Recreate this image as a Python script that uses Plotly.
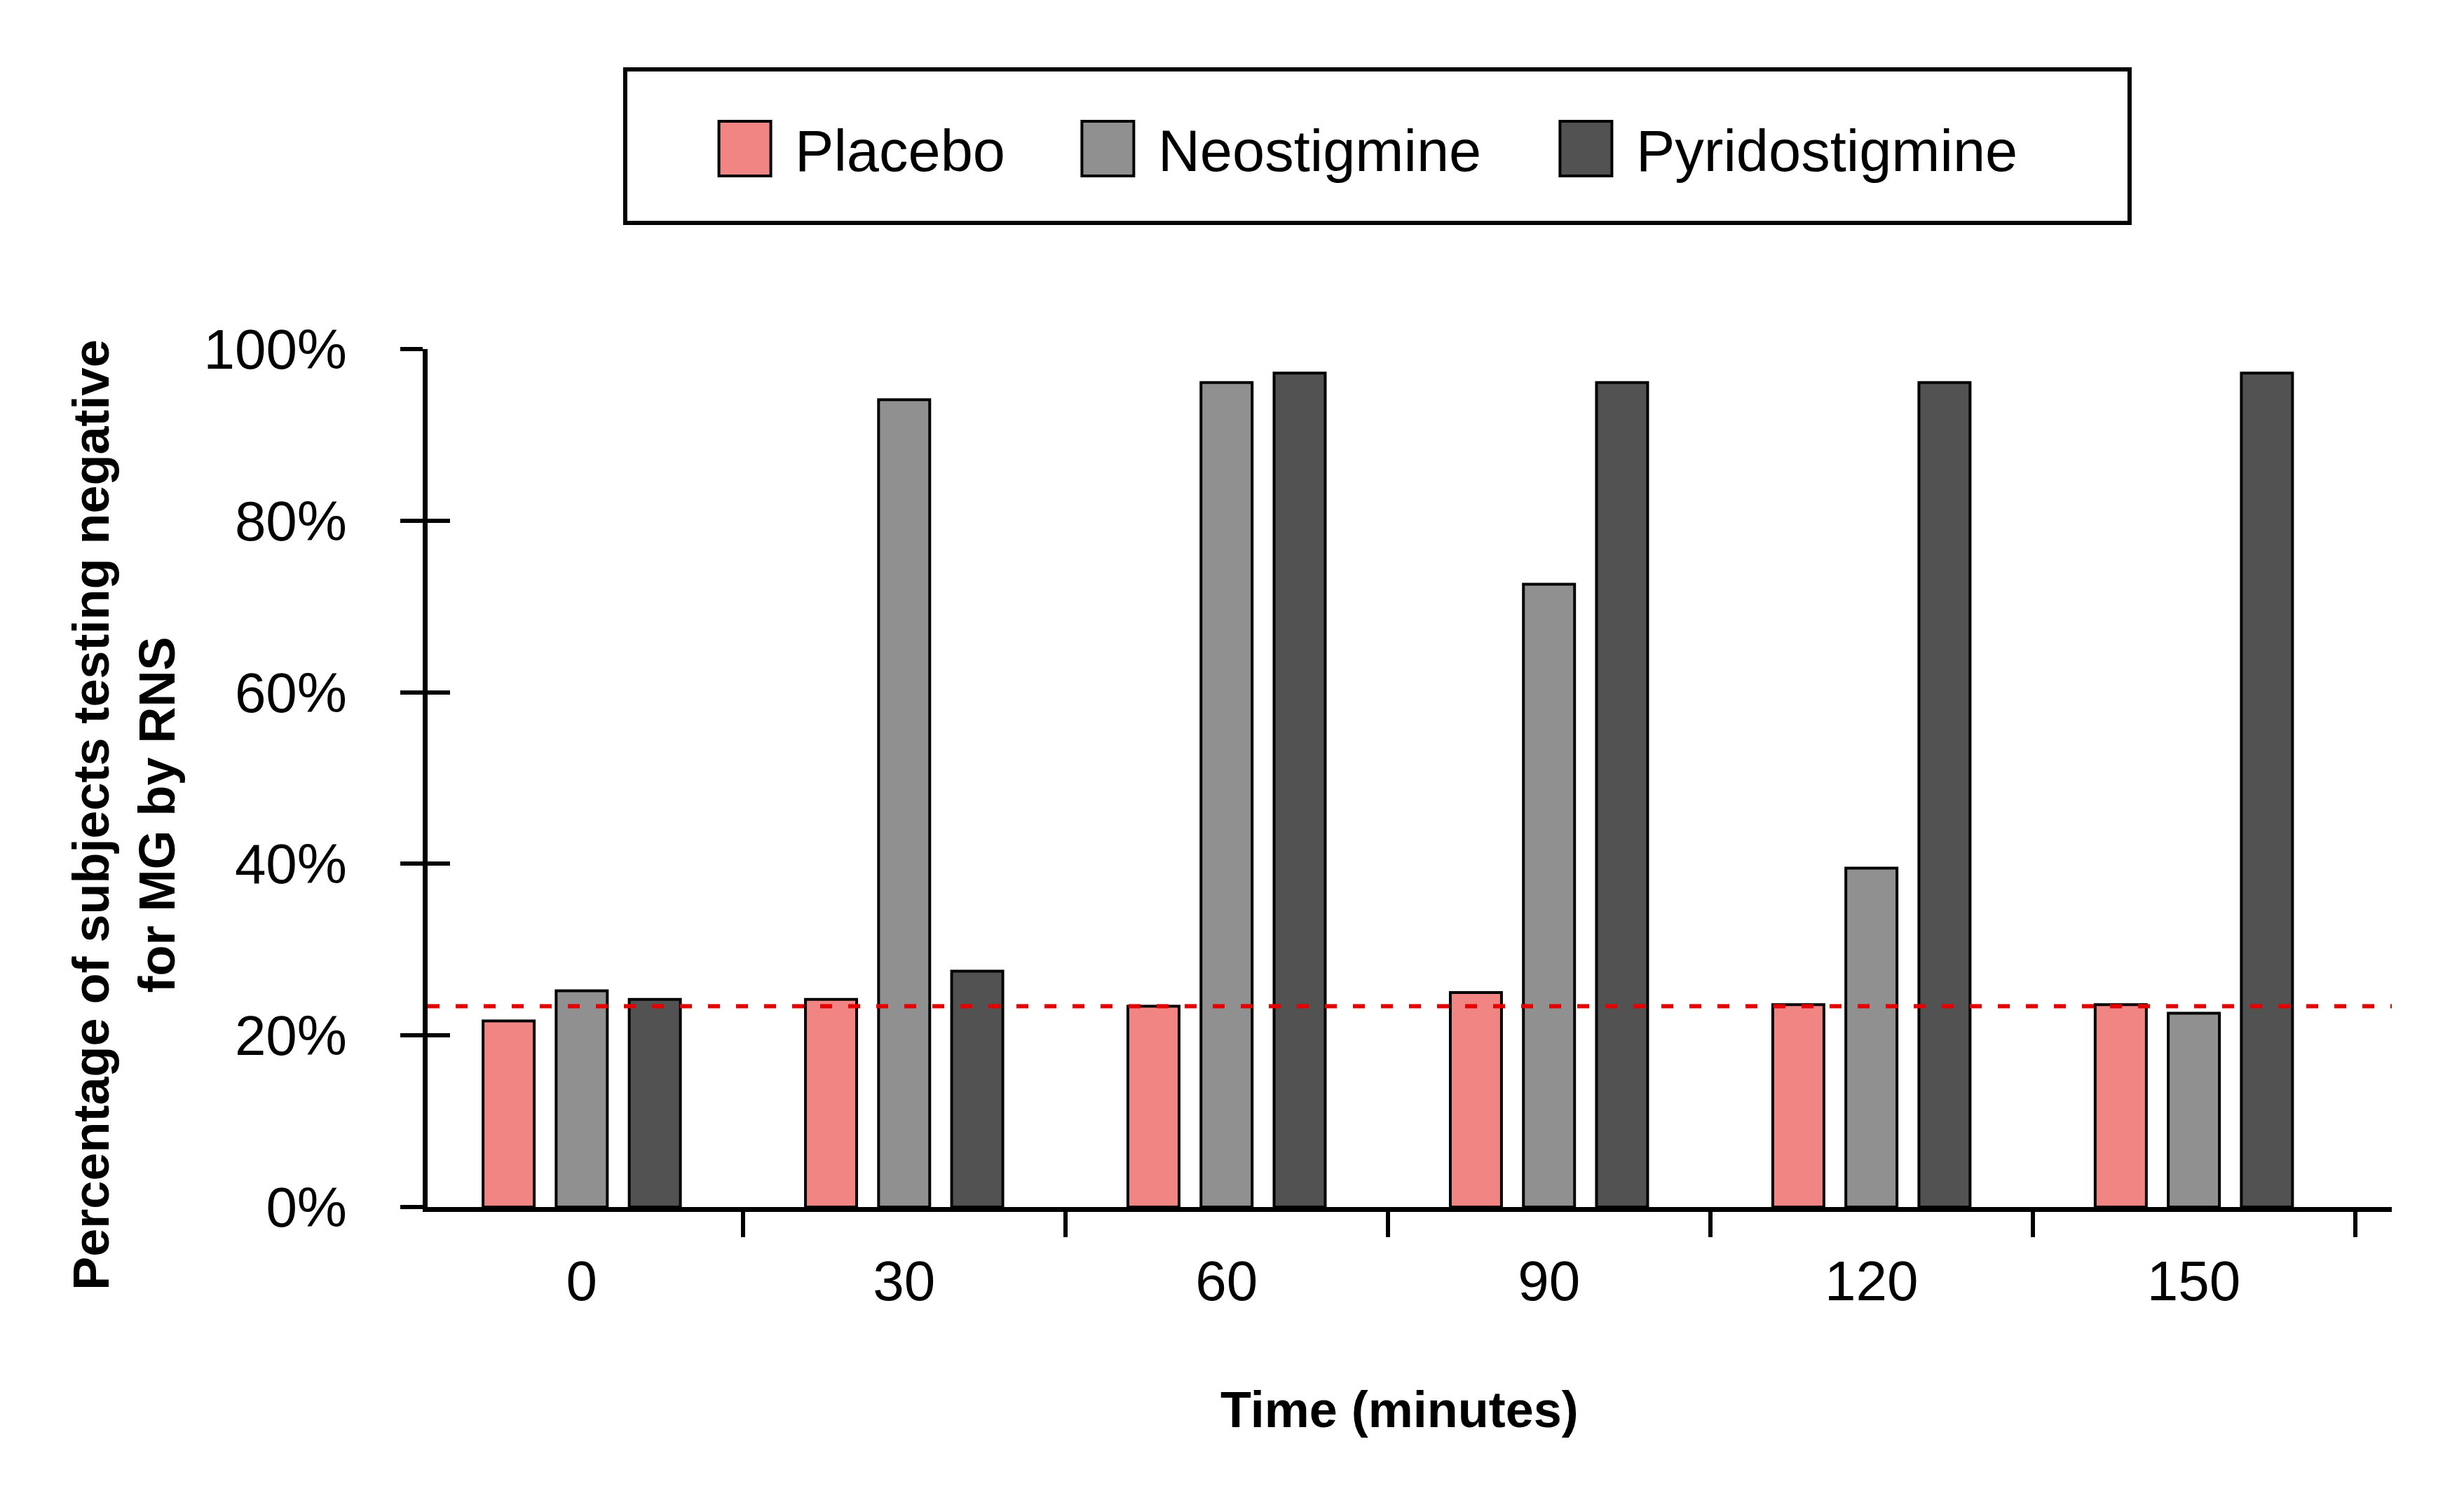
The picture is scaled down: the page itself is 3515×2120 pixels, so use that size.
import plotly.graph_objects as go

# ---- data ----
times = ["0", "30", "60", "90", "120", "150"]
series_names = ["Placebo", "Neostigmine", "Pyridostigmine"]
placebo = [21.7, 24.2, 23.4, 25.0, 23.6, 23.6]
neostigmine = [25.2, 94.1, 96.1, 72.6, 39.5, 22.6]
pyridostigmine = [24.2, 27.5, 97.2, 96.1, 96.1, 97.2]
reference_level = 23.4
y_tick_values = [0, 20, 40, 60, 80, 100]
y_tick_labels = ["0%", "20%", "40%", "60%", "80%", "100%"]

# ---- styles ----
series_colors = ["#F08583", "#909090", "#525252"]
legend_ids = ["legend", "legend2", "legend3"]
legend_x = [0.1360, 0.3208, 0.5642]
FONT = "Liberation Sans, Arial, Helvetica, sans-serif"

fig = go.Figure()
for name, vals, col, lg in zip(series_names, [placebo, neostigmine, pyridostigmine],
                               series_colors, legend_ids):
    fig.add_trace(go.Bar(
        x=times, y=vals, name=name, legend=lg,
        marker=dict(color=col, line=dict(color="black", width=4)),
    ))

# invisible helper trace so the overlay axis (inner half of the cross ticks) is drawn
fig.add_trace(go.Scatter(x=[times[0]], y=[None], yaxis="y2", mode="markers",
                         marker=dict(opacity=0), showlegend=False, hoverinfo="skip"))

fig.add_shape(type="line", xref="paper", x0=0, x1=1, yref="y",
              y0=reference_level, y1=reference_level,
              line=dict(color="#E30000", width=6, dash="17px,23px"), layer="above")

# legend frame
fig.add_shape(type="rect", xref="paper", yref="paper",
              x0=0.1006, x1=0.8665, y0=1.1471, y1=1.3260,
              line=dict(color="black", width=6), fillcolor="rgba(0,0,0,0)")

legend_common = dict(orientation="h", xanchor="left", y=1.2337, yanchor="middle",
                     font=dict(family=FONT, size=83, color="black"),
                     itemwidth=133, borderwidth=0, bgcolor="rgba(0,0,0,0)",
                     itemclick=False, itemdoubleclick=False)

fig.update_layout(
    width=3499, height=2104,
    margin=dict(l=602, r=95, t=490, b=390, pad=0),
    paper_bgcolor="white", plot_bgcolor="white",
    font=dict(family=FONT, color="black", size=80),
    barmode="group", bargap=0.32, bargroupgap=0.30,
    showlegend=True,
    legend=dict(x=legend_x[0], **legend_common),
    legend2=dict(x=legend_x[1], **legend_common),
    legend3=dict(x=legend_x[2], **legend_common),
    xaxis=dict(type="category", range=[-0.478, 5.614], tickson="boundaries",
               ticks="outside", ticklen=36, tickwidth=6, tickcolor="black",
               showline=True, linewidth=7, linecolor="black",
               showgrid=False, zeroline=False,
               tickfont=dict(family=FONT, size=80), ticklabelstandoff=30),
    yaxis=dict(range=[0, 100], tickvals=y_tick_values, ticktext=y_tick_labels,
               ticks="outside", ticklen=32, tickwidth=6, tickcolor="black",
               showline=True, linewidth=7, linecolor="black",
               showgrid=False, zeroline=False,
               tickfont=dict(family=FONT, size=80), ticklabelstandoff=60),
    yaxis2=dict(overlaying="y", side="left", range=[0, 100], tickvals=y_tick_values,
                ticks="inside", ticklen=32, tickwidth=6, tickcolor="black",
                showticklabels=False, showline=False, showgrid=False, zeroline=False),
    annotations=[
        dict(text="<b>Percentage of subjects testing negative<br>for MG by RNS</b>",
             xref="paper", yref="paper", x=-0.1545, y=0.457, textangle=-90,
             xanchor="center", yanchor="middle", showarrow=False, align="center",
             font=dict(family=FONT, size=72, color="black")),
        dict(text="<b>Time (minutes)</b>", xref="paper", yref="paper",
             x=0.495, y=-0.2364, xanchor="center", yanchor="middle", showarrow=False,
             font=dict(family=FONT, size=72, color="black")),
    ],
)

# enlarge the legend swatches to the size used in the reference
post = """
var gd = document.getElementById('{plot_id}');
function bigSwatches(){
  var ps = document.querySelectorAll('g.legendpoints path');
  for (var i = 0; i < ps.length; i++) {
    if (ps[i].getAttribute('d') !== 'M37,39H-37V-39H37Z') {
      ps[i].setAttribute('d', 'M37,39H-37V-39H37Z');
    }
  }
}
bigSwatches();
setTimeout(bigSwatches, 100);
setTimeout(bigSwatches, 500);
gd.on('plotly_afterplot', bigSwatches);
"""

fig.write_html("out.html", post_script=post)
